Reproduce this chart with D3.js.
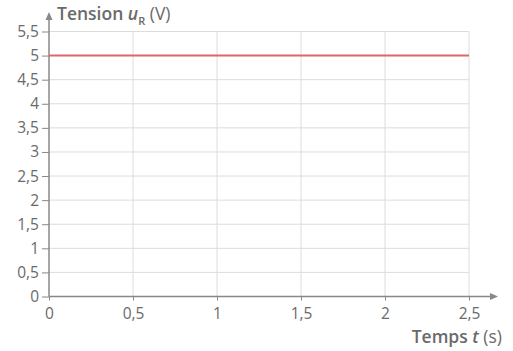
<!DOCTYPE html>
<html><head><meta charset="utf-8">
<script src="https://cdn.jsdelivr.net/npm/d3@7"></script>
<style>body{margin:0;background:#fff}svg{display:block}text{font-family:"Open Sans",sans-serif;fill:#6a6a6a}</style>
</head><body>
<script>
const xTicks = [0, 0.5, 1, 1.5, 2, 2.5];
const yTicks = [0, 0.5, 1, 1.5, 2, 2.5, 3, 3.5, 4, 4.5, 5, 5.5];
const times = [0, 2.5];
const tension = [5, 5];
const fmt = d => String(d).replace(".", ",");

const W = 513, H = 351;
const svg = d3.select("body").append("svg").attr("width", W).attr("height", H);
const x = d3.scaleLinear().domain([0, 2.5]).range([49, 469]);
const y = d3.scaleLinear().domain([0, 5.5]).range([296.5, 31.5]);

// grid
svg.append("g").selectAll("line").data(yTicks.filter(d => d > 0)).join("line")
  .attr("x1", x(0)).attr("x2", x(2.5)).attr("y1", d => y(d)).attr("y2", d => y(d))
  .attr("stroke", "#dcdcdc").attr("stroke-width", 1);
svg.append("g").selectAll("line").data(xTicks.filter(d => d > 0)).join("line")
  .attr("y1", y(0)).attr("y2", y(5.5)).attr("x1", d => x(d)).attr("x2", d => x(d))
  .attr("stroke", "#dcdcdc").attr("stroke-width", 1);

// axes
const xAxis = d3.axisBottom(x).tickValues(xTicks).tickFormat(fmt).tickSize(4).tickPadding(7);
const gx = svg.append("g").attr("transform", `translate(0,${y(0)})`).call(xAxis);
gx.select(".domain").remove();
gx.selectAll(".tick line").attr("stroke", "#888");
gx.selectAll(".tick text").attr("font-size", 15.5).attr("fill", "#6a6a6a").attr("font-family", "Open Sans");

const yAxis = d3.axisLeft(y).tickValues(yTicks).tickFormat(fmt).tickSize(7).tickPadding(3);
const gy = svg.append("g").attr("transform", `translate(${x(0)},0)`).call(yAxis);
gy.select(".domain").remove();
gy.selectAll(".tick line").attr("stroke", "#888");
gy.selectAll(".tick text").attr("font-size", 15.5).attr("fill", "#6a6a6a").attr("font-family", "Open Sans");

// axis lines with arrows
svg.append("line").attr("x1", x(0)).attr("x2", 493).attr("y1", y(0)).attr("y2", y(0)).attr("stroke", "#888").attr("stroke-width", 1.5);
svg.append("path").attr("d", `M498,${y(0)} L490,${y(0)-3.5} L490,${y(0)+3.5} Z`).attr("fill", "#888");
svg.append("line").attr("x1", x(0)).attr("x2", x(0)).attr("y1", y(0)).attr("y2", 18).attr("stroke", "#888").attr("stroke-width", 1.5);
svg.append("path").attr("d", `M${x(0)},12 L${x(0)-3.5},20 L${x(0)+3.5},20 Z`).attr("fill", "#888");

// data line
const line = d3.line().x((d, i) => x(times[i])).y(d => y(d));
svg.append("path").datum(tension).attr("d", line).attr("fill", "none").attr("stroke", "#e06666").attr("stroke-width", 2);

// titles
const t1 = svg.append("text").attr("x", 57).attr("y", 20).attr("font-size", 17.5);
t1.append("tspan").attr("font-weight", "600").text("Tension ");
t1.append("tspan").attr("font-weight", "600").attr("font-style", "italic").text("u");
t1.append("tspan").attr("font-size", 11).attr("font-weight", "600").attr("dy", 5).text("R");
t1.append("tspan").attr("dy", -5).text(" (V)");

const t2 = svg.append("text").attr("x", 502).attr("y", 343).attr("font-size", 17.5).attr("text-anchor", "end");
t2.append("tspan").attr("font-weight", "600").text("Temps ");
t2.append("tspan").attr("font-weight", "600").attr("font-style", "italic").text("t");
t2.append("tspan").text(" (s)");
</script>
</body></html>
